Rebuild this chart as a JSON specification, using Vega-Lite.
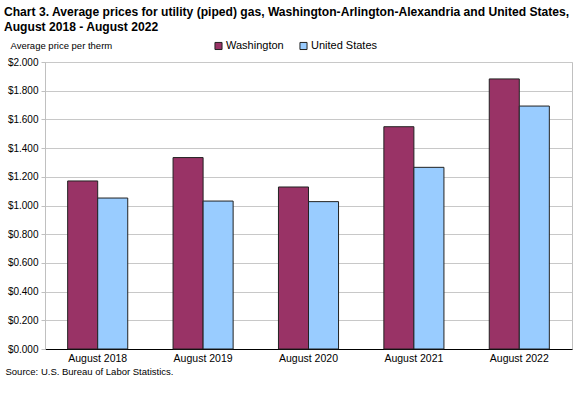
{
  "$schema": "https://vega.github.io/schema/vega-lite/v6.json",
  "autosize": "none",
  "width": 527,
  "height": 287,
  "padding": {"left": 45, "top": 62, "right": 9, "bottom": 46},
  "background": "white",
  "config": {
    "font": "Liberation Sans",
    "view": {"stroke": "#c0c0c0", "strokeWidth": 1}
  },
  "title": {
    "text": ["Chart 3. Average prices for utility (piped) gas, Washington-Arlington-Alexandria and United States,", "August 2018 - August 2022"],
    "anchor": "start",
    "frame": "group",
    "dx": -41,
    "fontSize": 12.1,
    "fontWeight": "bold",
    "font": "Liberation Sans",
    "lineHeight": 15,
    "offset": 7,
    "color": "black"
  },
  "data": {
    "values": [
      {"period": "August 2018", "area": "Washington", "price": 1.171},
      {"period": "August 2018", "area": "United States", "price": 1.052},
      {"period": "August 2019", "area": "Washington", "price": 1.334},
      {"period": "August 2019", "area": "United States", "price": 1.031},
      {"period": "August 2020", "area": "Washington", "price": 1.129},
      {"period": "August 2020", "area": "United States", "price": 1.027},
      {"period": "August 2021", "area": "Washington", "price": 1.549},
      {"period": "August 2021", "area": "United States", "price": 1.266},
      {"period": "August 2022", "area": "Washington", "price": 1.882},
      {"period": "August 2022", "area": "United States", "price": 1.693}
    ]
  },
  "mark": {"type": "bar", "stroke": "#222222", "strokeWidth": 1},
  "encoding": {
    "x": {
      "field": "period",
      "type": "nominal",
      "sort": null,
      "scale": {"paddingInner": 0.43, "paddingOuter": 0.215},
      "axis": {
        "labelAngle": 0,
        "labelFontSize": 10.5,
        "labelColor": "black",
        "labelPadding": 4,
        "ticks": false,
        "domainColor": "black",
        "domainWidth": 1,
        "title": "Source: U.S. Bureau of Labor Statistics.",
        "titleFontSize": 9.5,
        "titleFontWeight": "normal",
        "titleColor": "black",
        "titleAnchor": "start",
        "titleAlign": "left",
        "titleBaseline": "middle",
        "titleX": -40,
        "titleY": 22
      }
    },
    "xOffset": {"field": "area", "type": "nominal", "sort": ["Washington", "United States"]},
    "y": {
      "field": "price",
      "type": "quantitative",
      "scale": {"domain": [0, 2]},
      "axis": {
        "values": [0, 0.2, 0.4, 0.6, 0.8, 1.0, 1.2, 1.4, 1.6, 1.8, 2.0],
        "format": "$.3f",
        "labelFontSize": 10,
        "labelColor": "black",
        "labelPadding": 3,
        "tickColor": "#c0c0c0",
        "tickSize": 4,
        "gridColor": "#c8c8c8",
        "gridWidth": 1,
        "domainColor": "#c0c0c0",
        "title": "Average price per therm",
        "titleFontSize": 9.5,
        "titleFontWeight": "normal",
        "titleColor": "black",
        "titleAngle": 0,
        "titleAlign": "left",
        "titleBaseline": "middle",
        "titleX": -35,
        "titleY": -17
      }
    },
    "fill": {
      "field": "area",
      "type": "nominal",
      "sort": ["Washington", "United States"],
      "scale": {"domain": ["Washington", "United States"], "range": ["#993366", "#99ccff"]},
      "legend": {
        "title": null,
        "orient": "none",
        "direction": "horizontal",
        "legendX": 168,
        "legendY": -22,
        "symbolType": "square",
        "symbolSize": 50,
        "symbolStrokeColor": "#222222",
        "symbolStrokeWidth": 1,
        "labelFontSize": 11,
        "labelColor": "black",
        "labelOffset": 2,
        "columnPadding": 13
      }
    }
  }
}
